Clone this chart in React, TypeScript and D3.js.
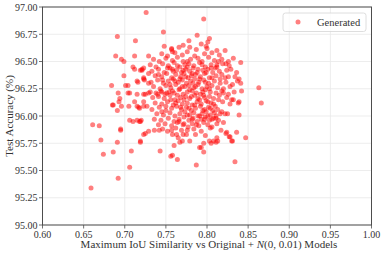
import React from 'react';
import * as d3 from 'd3';

const xTicks = [0.6, 0.65, 0.7, 0.75, 0.8, 0.85, 0.9, 0.95, 1.0];
const yTicks = [95.0, 95.25, 95.5, 95.75, 96.0, 96.25, 96.5, 96.75, 97.0];
const legendLabel = 'Generated';

// outliers
const edgePoints: [number, number][] = [
  [0.726, 96.95], [0.691, 96.73], [0.747, 96.77], [0.713, 96.69], [0.689, 96.55], [0.696, 96.52],
  [0.699, 96.5], [0.712, 96.55], [0.729, 96.55], [0.684, 96.28], [0.699, 96.37], [0.701, 96.28],
  [0.704, 96.28], [0.71, 96.45], [0.712, 96.43], [0.719, 96.42], [0.721, 96.43], [0.715, 96.32],
  [0.723, 96.34], [0.724, 96.33], [0.723, 96.2], [0.706, 96.21], [0.715, 96.2], [0.692, 96.21],
  [0.685, 96.1], [0.691, 96.05], [0.705, 96.09], [0.717, 96.08], [0.727, 96.09], [0.706, 95.96],
  [0.71, 95.95], [0.719, 95.95], [0.661, 95.92], [0.669, 95.91], [0.671, 95.78], [0.674, 95.65],
  [0.686, 95.67], [0.691, 95.76], [0.708, 95.68], [0.719, 95.77], [0.706, 95.53], [0.692, 95.43],
  [0.659, 95.34], [0.695, 95.87], [0.723, 95.83], [0.725, 95.84], [0.729, 95.86], [0.736, 95.87],
  [0.742, 95.87], [0.743, 95.68], [0.757, 95.87], [0.758, 95.83], [0.756, 95.63], [0.758, 95.64],
  [0.76, 95.73], [0.764, 95.6], [0.763, 95.83], [0.765, 95.8], [0.767, 95.76], [0.77, 95.77],
  [0.769, 95.87], [0.771, 95.83], [0.775, 95.83], [0.779, 95.77], [0.787, 95.55], [0.834, 95.58],
  [0.796, 95.67], [0.791, 95.71], [0.793, 95.71], [0.796, 95.75], [0.803, 95.77], [0.805, 95.75],
  [0.808, 95.77], [0.811, 95.76], [0.813, 95.77], [0.812, 95.8], [0.823, 95.84], [0.827, 95.81],
  [0.83, 95.77], [0.836, 95.85], [0.847, 95.8], [0.798, 95.82], [0.786, 95.83], [0.82, 95.94],
  [0.796, 96.89], [0.788, 96.74], [0.803, 96.71], [0.801, 96.68], [0.799, 96.64], [0.8, 96.62],
  [0.822, 96.6], [0.841, 96.49], [0.826, 96.5], [0.823, 96.48], [0.863, 96.26], [0.866, 96.12],
  [0.839, 96.01], [0.834, 96.36], [0.839, 96.34], [0.841, 96.3], [0.842, 96.23], [0.831, 96.29],
  [0.824, 96.42], [0.778, 96.69], [0.779, 96.63], [0.766, 96.63], [0.814, 96.5], [0.812, 96.47],
  [0.81, 96.44], [0.822, 96.35], [0.839, 96.13], [0.83, 96.15], [0.824, 96.17], [0.757, 96.61],
  [0.758, 96.59], [0.81, 96.09], [0.813, 96.06], [0.816, 96.02], [0.818, 96.04], [0.822, 96.02],
  [0.825, 96.02], [0.828, 96.11], [0.832, 96.15], [0.838, 96.12], [0.819, 96.13], [0.824, 95.85],
  [0.828, 95.81], [0.831, 95.77], [0.719, 95.76], [0.715, 95.96], [0.718, 95.95], [0.72, 95.96],
  [0.695, 95.88], [0.686, 96.1], [0.696, 96.09], [0.693, 96.13], [0.712, 96.13], [0.715, 96.09],
  [0.723, 96.09], [0.723, 96.13], [0.718, 96.07], [0.694, 96.16], [0.704, 96.21], [0.725, 96.2],
  [0.729, 96.21], [0.729, 96.39], [0.729, 96.3], [0.716, 96.31], [0.721, 96.42], [0.723, 96.44],
  [0.723, 96.35],
];

// dense core, estimated band by band
const corePoints: [number, number][] = [
  [0.748, 96.64], [0.757, 96.62], [0.771, 96.65], [0.787, 96.61], [0.793, 96.66], [0.812, 96.6],
  [0.745, 96.57], [0.752, 96.55], [0.761, 96.58], [0.77, 96.56], [0.776, 96.59], [0.785, 96.55],
  [0.797, 96.57], [0.806, 96.58], [0.815, 96.56], [0.735, 96.52], [0.742, 96.5], [0.75, 96.53],
  [0.758, 96.51], [0.764, 96.54], [0.771, 96.5], [0.78, 96.52], [0.789, 96.53], [0.794, 96.5],
  [0.802, 96.54], [0.809, 96.51], [0.818, 96.52], [0.832, 96.53], [0.731, 96.47], [0.738, 96.45],
  [0.746, 96.48], [0.753, 96.46], [0.76, 96.49], [0.767, 96.45], [0.773, 96.47], [0.778, 96.48],
  [0.784, 96.46], [0.791, 96.49], [0.798, 96.45], [0.805, 96.47], [0.812, 96.45], [0.819, 96.48],
  [0.827, 96.46], [0.733, 96.41], [0.741, 96.43], [0.748, 96.4], [0.755, 96.44], [0.759, 96.41],
  [0.763, 96.42], [0.769, 96.4], [0.774, 96.43], [0.779, 96.41], [0.783, 96.44], [0.788, 96.4],
  [0.795, 96.42], [0.801, 96.43], [0.807, 96.4], [0.815, 96.41], [0.829, 96.43], [0.836, 96.4],
  [0.737, 96.37], [0.745, 96.36], [0.751, 96.39], [0.757, 96.35], [0.762, 96.38], [0.768, 96.36],
  [0.772, 96.39], [0.777, 96.35], [0.781, 96.37], [0.786, 96.38], [0.792, 96.36], [0.797, 96.39],
  [0.803, 96.35], [0.811, 96.37], [0.818, 96.38], [0.826, 96.36], [0.732, 96.31], [0.74, 96.33],
  [0.747, 96.3], [0.753, 96.32], [0.759, 96.34], [0.765, 96.31], [0.77, 96.33], [0.775, 96.3],
  [0.78, 96.32], [0.785, 96.34], [0.79, 96.31], [0.796, 96.33], [0.802, 96.3], [0.809, 96.32],
  [0.816, 96.34], [0.823, 96.31], [0.837, 96.32], [0.735, 96.27], [0.743, 96.25], [0.75, 96.28],
  [0.756, 96.26], [0.762, 96.29], [0.767, 96.25], [0.773, 96.27], [0.778, 96.28], [0.784, 96.26],
  [0.789, 96.29], [0.794, 96.25], [0.8, 96.27], [0.806, 96.28], [0.813, 96.26], [0.82, 96.25],
  [0.828, 96.27], [0.731, 96.22], [0.738, 96.21], [0.744, 96.23], [0.749, 96.2], [0.754, 96.22],
  [0.76, 96.21], [0.766, 96.24], [0.771, 96.2], [0.776, 96.22], [0.782, 96.23], [0.787, 96.21],
  [0.792, 96.2], [0.798, 96.24], [0.804, 96.22], [0.811, 96.21], [0.818, 96.23], [0.826, 96.2],
  [0.833, 96.22], [0.734, 96.17], [0.741, 96.18], [0.748, 96.16], [0.755, 96.19], [0.761, 96.15],
  [0.768, 96.17], [0.774, 96.18], [0.779, 96.16], [0.785, 96.19], [0.791, 96.15], [0.797, 96.17],
  [0.803, 96.18], [0.808, 96.16], [0.815, 96.19], [0.737, 96.12], [0.745, 96.11], [0.752, 96.13],
  [0.759, 96.1], [0.765, 96.14], [0.77, 96.11], [0.776, 96.12], [0.782, 96.1], [0.788, 96.13],
  [0.793, 96.11], [0.799, 96.14], [0.805, 96.12], [0.733, 96.06], [0.742, 96.08], [0.75, 96.05],
  [0.757, 96.07], [0.763, 96.09], [0.769, 96.06], [0.775, 96.08], [0.781, 96.05], [0.786, 96.07],
  [0.792, 96.09], [0.797, 96.06], [0.802, 96.08], [0.807, 96.05], [0.739, 96.02], [0.747, 96.01],
  [0.755, 96.03], [0.761, 96.0], [0.767, 96.02], [0.773, 96.04], [0.779, 96.01], [0.784, 96.03],
  [0.789, 96.0], [0.794, 96.02], [0.799, 96.04], [0.804, 96.01], [0.809, 96.03], [0.736, 95.97],
  [0.744, 95.96], [0.753, 95.98], [0.76, 95.95], [0.766, 95.97], [0.772, 95.99], [0.778, 95.96],
  [0.783, 95.98], [0.788, 95.95], [0.793, 95.97], [0.798, 95.99], [0.803, 95.96], [0.808, 95.98],
  [0.814, 95.96], [0.741, 95.92], [0.749, 95.93], [0.757, 95.91], [0.764, 95.94], [0.771, 95.92],
  [0.777, 95.9], [0.782, 95.93], [0.79, 95.91], [0.796, 95.94], [0.801, 95.92], [0.806, 95.9],
  [0.812, 95.93], [0.746, 95.88], [0.752, 95.86], [0.762, 95.89], [0.776, 95.87], [0.784, 95.88],
  [0.793, 95.86], [0.804, 95.89], [0.817, 95.87],
];

// extra points where the centre of the cloud is darkest
const densePoints: [number, number][] = [
  [0.758, 96.43], [0.764, 96.46], [0.771, 96.42], [0.776, 96.45], [0.782, 96.39], [0.789, 96.43],
  [0.794, 96.47], [0.799, 96.4], [0.805, 96.44], [0.776, 96.5], [0.767, 96.34], [0.774, 96.36],
  [0.783, 96.3], [0.791, 96.34], [0.798, 96.31], [0.806, 96.35], [0.761, 96.32], [0.755, 96.29],
  [0.77, 96.27], [0.779, 96.24], [0.786, 96.27], [0.795, 96.22], [0.803, 96.25], [0.758, 96.23],
  [0.764, 96.19], [0.751, 96.21], [0.745, 96.22], [0.74, 96.2], [0.772, 96.15], [0.781, 96.18],
  [0.789, 96.16], [0.796, 96.19], [0.801, 96.13], [0.808, 96.11], [0.762, 96.12], [0.768, 96.08],
  [0.778, 96.07], [0.785, 96.1], [0.795, 96.05], [0.804, 96.07], [0.811, 96.0], [0.776, 96.01],
  [0.782, 95.97], [0.791, 96.0], [0.797, 95.97], [0.801, 96.0], [0.806, 95.97], [0.811, 95.98],
  [0.787, 95.92], [0.766, 95.95], [0.772, 95.93], [0.75, 96.09], [0.745, 96.04], [0.756, 96.15],
  [0.816, 96.3], [0.814, 96.15], [0.82, 96.21], [0.746, 96.33], [0.741, 96.38], [0.752, 96.44],
];

const points = [...edgePoints, ...corePoints, ...densePoints];

const W = 384;
const H = 255;
const left = 42.5;
const right = 371.5;
const top = 7;
const bottom = 225;
const font = '"Liberation Serif", "DejaVu Serif", serif';

export default function App() {
  const x = d3.scaleLinear().domain([0.6, 1.0]).range([left, right]);
  const y = d3.scaleLinear().domain([95.0, 97.0]).range([bottom, top]);

  return (
    <svg width={W} height={H} style={{ position: 'absolute', left: 0, top: 0, background: '#fff' }}
      fontFamily={font}>
      {/* grid */}
      {xTicks.map(t => (
        <line key={'gx' + t} x1={x(t)} x2={x(t)} y1={top} y2={bottom} stroke="#e8e8e8" strokeWidth={0.8} />
      ))}
      {yTicks.map(t => (
        <line key={'gy' + t} x1={left} x2={right} y1={y(t)} y2={y(t)} stroke="#e8e8e8" strokeWidth={0.8} />
      ))}

      {/* points */}
      {points.map((p, i) => (
        <circle key={i} cx={x(p[0])} cy={y(p[1])} r={2.5} fill="#ff0000" fillOpacity={0.5} />
      ))}

      {/* frame */}
      <rect x={left} y={top} width={right - left} height={bottom - top} fill="none" stroke="#4d4d4d" strokeWidth={1} />

      {/* x axis */}
      {xTicks.map(t => (
        <g key={'tx' + t}>
          <line x1={x(t)} x2={x(t)} y1={bottom} y2={bottom + 3.5} stroke="#4d4d4d" strokeWidth={0.8} />
          <text x={x(t)} y={bottom + 12.5} textAnchor="middle" fontSize={10} fill="#333">
            {d3.format('.2f')(t)}
          </text>
        </g>
      ))}
      {/* y axis */}
      {yTicks.map(t => (
        <g key={'ty' + t}>
          <line x1={left - 3.5} x2={left} y1={y(t)} y2={y(t)} stroke="#4d4d4d" strokeWidth={0.8} />
          <text x={left - 5} y={y(t) + 3.5} textAnchor="end" fontSize={10} fill="#333">
            {d3.format('.2f')(t)}
          </text>
        </g>
      ))}

      <text x={(left + right) / 2 + 2} y={248} textAnchor="middle" fontSize={11} fill="#333">
        Maximum IoU Similarity vs Original + <tspan fontStyle="italic">N</tspan>(0, 0.01) Models
      </text>
      <text transform={`translate(13, ${(top + bottom) / 2}) rotate(-90)`} textAnchor="middle" fontSize={11} fill="#333">
        Test Accuracy (%)
      </text>

      {/* legend */}
      <rect x={283} y={13} width={83} height={18.5} rx={2.5} fill="#fff" fillOpacity={0.8} stroke="#d6d6d6" strokeWidth={0.8} />
      <circle cx={298} cy={22} r={2.5} fill="#ff0000" fillOpacity={0.5} />
      <text x={317} y={25.5} fontSize={10.5} fill="#333">{legendLabel}</text>
    </svg>
  );
}
